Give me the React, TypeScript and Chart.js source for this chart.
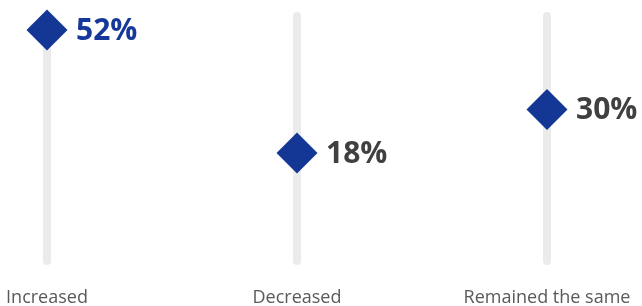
import React, { useEffect, useRef } from "react";
import { Chart, registerables } from "chart.js";

Chart.register(...registerables);

const categories: string[] = ["Increased", "Decreased", "Remained the same"];
const values: number[] = [52, 18, 30];
const valueLabelColors: string[] = ["#16389A", "#404040", "#404040"];

const DIAMOND = "#143795";
const TRACK = "#EBEBEB";

const trackPlugin = {
  id: "tracks",
  beforeDatasetsDraw(chart: any) {
    const { ctx, chartArea, scales } = chart;
    const x = scales.x;
    ctx.save();
    ctx.strokeStyle = TRACK;
    ctx.lineWidth = 8;
    ctx.lineCap = "round";
    categories.forEach((_, i) => {
      const px = Math.round(x.getPixelForValue(i));
      ctx.beginPath();
      ctx.moveTo(px, chartArea.top + 4);
      ctx.lineTo(px, chartArea.bottom - 4);
      ctx.stroke();
    });
    ctx.restore();
  },
};

const valueLabelPlugin = {
  id: "valueLabels",
  afterDatasetsDraw(chart: any) {
    const { ctx } = chart;
    const meta = chart.getDatasetMeta(0);
    ctx.save();
    ctx.font = "700 30px 'Open Sans'";
    ctx.textAlign = "left";
    ctx.textBaseline = "middle";
    meta.data.forEach((pt: any, i: number) => {
      ctx.fillStyle = valueLabelColors[i];
      ctx.fillText(values[i] + "%", pt.x + 29, pt.y + 1);
    });
    ctx.restore();
  },
};

export default function App() {
  const ref = useRef<HTMLCanvasElement | null>(null);
  useEffect(() => {
    if (!ref.current) return;
    const chart = new Chart(ref.current, {
      type: "line",
      data: {
        labels: categories,
        datasets: [
          {
            data: values,
            showLine: false,
            pointStyle: "rectRot",
            pointRadius: 20.5,
            pointHoverRadius: 20.5,
            pointBackgroundColor: DIAMOND,
            pointBorderColor: DIAMOND,
            pointBorderWidth: 0,
            clip: false as any,
          },
        ],
      },
      options: {
        animation: false,
        responsive: true,
        maintainAspectRatio: false,
        events: [],
        layout: { autoPadding: false, padding: { left: 47, right: 95, top: 12, bottom: 0 } },
        plugins: { legend: { display: false }, tooltip: { enabled: false } },
        scales: {
          x: {
            type: "category",
            offset: false,
            border: { display: false },
            grid: { display: false, drawTicks: false },
            ticks: {
              padding: 22,
              color: "#595959",
              font: { family: "'Open Sans'", size: 18 },
              maxRotation: 0,
              autoSkip: false,
            },
            afterFit(scale: any) {
              scale.height = 41;
              scale.paddingLeft = 0;
              scale.paddingRight = 0;
            },
          },
          y: {
            display: false,
            min: -13,
            max: 57,
          },
        },
      },
      plugins: [trackPlugin, valueLabelPlugin],
    });
    return () => chart.destroy();
  }, []);
  return (
    <div style={{ position: "fixed", left: 0, top: 0, width: 642, height: 306 }}>
      <canvas ref={ref} />
    </div>
  );
}
